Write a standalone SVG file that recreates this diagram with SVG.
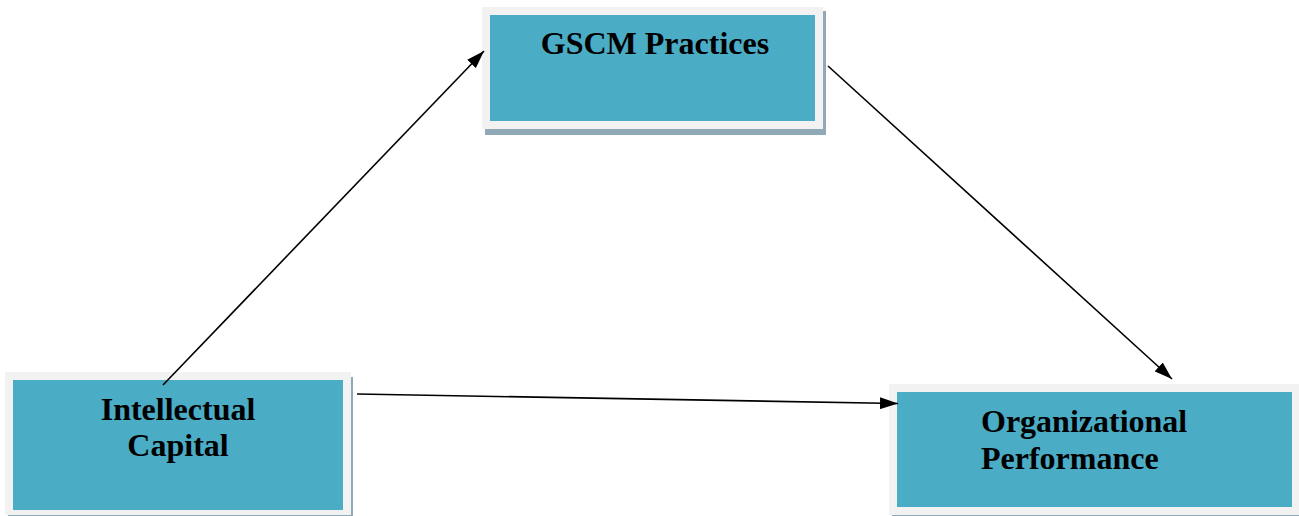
<svg xmlns="http://www.w3.org/2000/svg" width="1299" height="516" viewBox="0 0 1299 516">
<style>
.shadow{fill:#8FAAB6}
.frame{fill:#F2F2F2}
.box{fill:#4BACC6}
.lbl{font-family:"Liberation Serif","Times New Roman",serif;font-weight:bold;font-size:32px;fill:#000}
.conn{stroke:#000;stroke-width:1.6;fill:none}
</style>
<defs>
<marker id="ah" viewBox="0 0 18 12" refX="18" refY="6" markerWidth="18" markerHeight="12" markerUnits="userSpaceOnUse" orient="auto">
<path d="M0,0 L18,6 L0,12 Z" fill="#000"/>
</marker>
</defs>
<rect width="1299" height="516" fill="#fff"/>
<g id="gscm">
<rect class="shadow" x="485" y="11" width="341" height="124"/>
<rect class="frame" x="482" y="7" width="341" height="122"/>
<rect class="box" x="490" y="15" width="325" height="106"/>
<text class="lbl" x="655" y="54" text-anchor="middle">GSCM Practices</text>
</g>
<g id="ic">
<rect class="shadow" x="8" y="377" width="345" height="139"/>
<rect class="frame" x="5" y="372" width="346" height="143"/>
<rect class="box" x="13" y="380" width="330" height="130"/>
<text class="lbl" x="178" y="420" text-anchor="middle">Intellectual</text>
<text class="lbl" x="178" y="456" text-anchor="middle">Capital</text>
</g>
<g id="op">
<rect class="shadow" x="892" y="388" width="407" height="128"/>
<rect class="frame" x="889" y="384" width="410" height="131"/>
<rect class="box" x="897" y="392" width="395" height="115"/>
<text class="lbl" x="981" y="432">Organizational</text>
<text class="lbl" x="981" y="469">Performance</text>
</g>
<g id="connectors">
<line class="conn" x1="163" y1="385" x2="484" y2="51" marker-end="url(#ah)"/>
<line class="conn" x1="828" y1="66" x2="1172" y2="379" marker-end="url(#ah)"/>
<line class="conn" x1="357" y1="394" x2="898" y2="403.5" marker-end="url(#ah)"/>
</g>
</svg>
